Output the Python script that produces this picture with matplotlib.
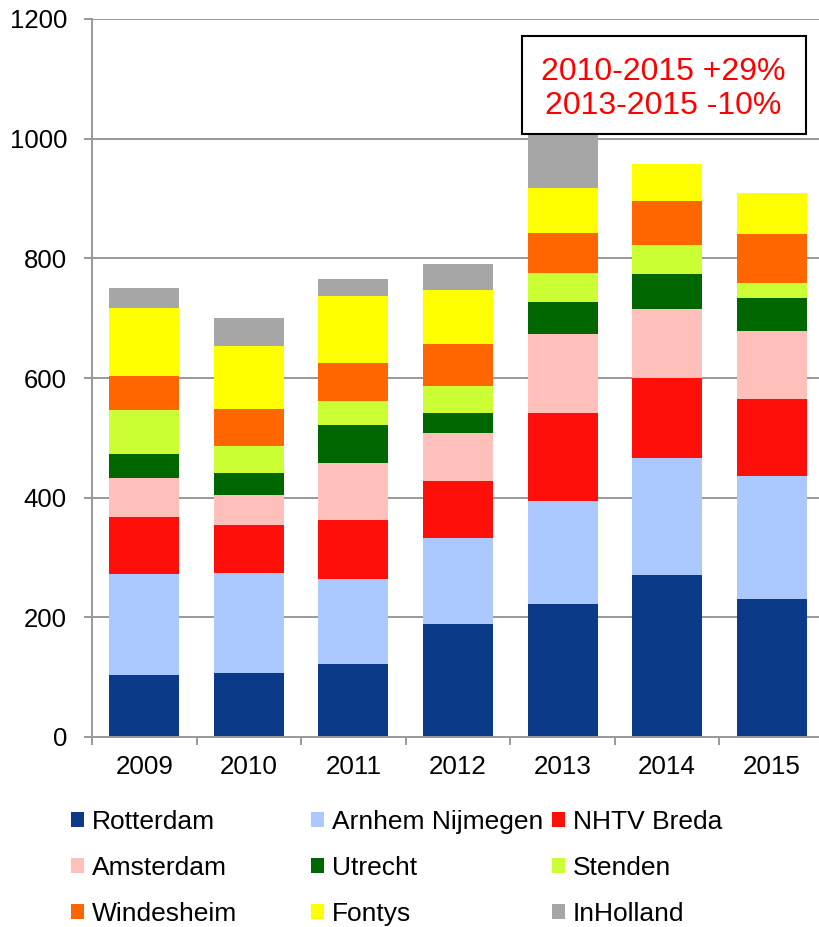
import numpy as np
import matplotlib
matplotlib.use("Agg")
import matplotlib.pyplot as plt
from matplotlib.patches import Rectangle

plt.rcParams['font.family'] = ['Liberation Sans', 'DejaVu Sans']

years = ['2009', '2010', '2011', '2012', '2013', '2014', '2015']
names = ['Rotterdam', 'Arnhem Nijmegen', 'NHTV Breda', 'Amsterdam', 'Utrecht',
         'Stenden', 'Windesheim', 'Fontys', 'InHolland']
colors = ['#0B3A88', '#ABC9FF', '#FF0F0A', '#FFBFBB', '#006600',
          '#CCFF33', '#FF6600', '#FFFF00', '#A6A6A6']

rotterdam = [103, 107, 122, 189, 222, 271, 231]
arnhem    = [169, 167, 142, 144, 173, 195, 205]
nhtv      = [95, 80, 99, 95, 147, 134, 129]
amsterdam = [66, 50, 95, 80, 132, 116, 114]
utrecht   = [40, 37, 63, 34, 53, 58, 55]
stenden   = [74, 46, 41, 44, 48, 48, 24]
windesheim = [57, 62, 63, 70, 68, 73, 82]
fontys    = [113, 105, 112, 91, 75, 62, 69]
inholland = [34, 47, 28, 44, 93, 0, 0]

series = [rotterdam, arnhem, nhtv, amsterdam, utrecht, stenden, windesheim, fontys, inholland]

fig = plt.figure(figsize=(8.19, 9.27), dpi=100)
ax = fig.add_axes([92 / 819, 190 / 927, 732 / 819, 718 / 927])

x = np.arange(len(years))
bottom = np.zeros(len(years))
bars = []
for vals, name, col in zip(series, names, colors):
    b = ax.bar(x, vals, 0.67, bottom=bottom, color=col, label=name, zorder=2)
    bars.append(b)
    bottom += np.array(vals)

ax.set_xlim(-0.5, 6.5)
ax.set_ylim(0, 1200)
ax.set_yticks(range(0, 1201, 200))
ax.grid(axis='y', color='#999999', lw=1.4, zorder=0)
ax.set_axisbelow(True)

ax.set_xticks(x)
ax.set_xticklabels(years, fontsize=18.7)
ax.set_xticks(np.arange(-0.5, 6.6, 1), minor=True)
ax.tick_params(axis='x', which='major', length=0, pad=13)
ax.tick_params(axis='x', which='minor', length=6, width=1.4, color='#999999')
ax.tick_params(axis='y', length=6, width=1.4, color='#999999', labelsize=18.5, pad=12)

for s in ['top', 'right']:
    ax.spines[s].set_visible(False)
for s in ['left', 'bottom']:
    ax.spines[s].set_color('#999999')
    ax.spines[s].set_linewidth(1.4)

# text box
ax.add_patch(Rectangle((0.587, 0.8405), 0.389, 0.1353, transform=ax.transAxes,
                       facecolor='white', edgecolor='black', lw=1.5, zorder=5, clip_on=False))
ax.text(0.78, 0.903, '2010-2015 +29%\n2013-2015 -10%', transform=ax.transAxes,
        ha='center', va='center', color='#FF0000', fontsize=23, linespacing=1.17, zorder=6)

# legend, three columns placed like the original
col_x = [71 / 819, 311 / 819, 552 / 819]
for c in range(3):
    idx = [c, c + 3, c + 6]
    fig.legend([bars[i] for i in idx], [names[i] for i in idx],
               loc='upper left', bbox_to_anchor=(col_x[c], 1 - 810 / 927),
               frameon=False, fontsize=19, handlelength=0.5, handleheight=0.5,
               handletextpad=0.28, labelspacing=0.84, borderaxespad=0, borderpad=0)

fig.savefig('out.png', dpi=100)
